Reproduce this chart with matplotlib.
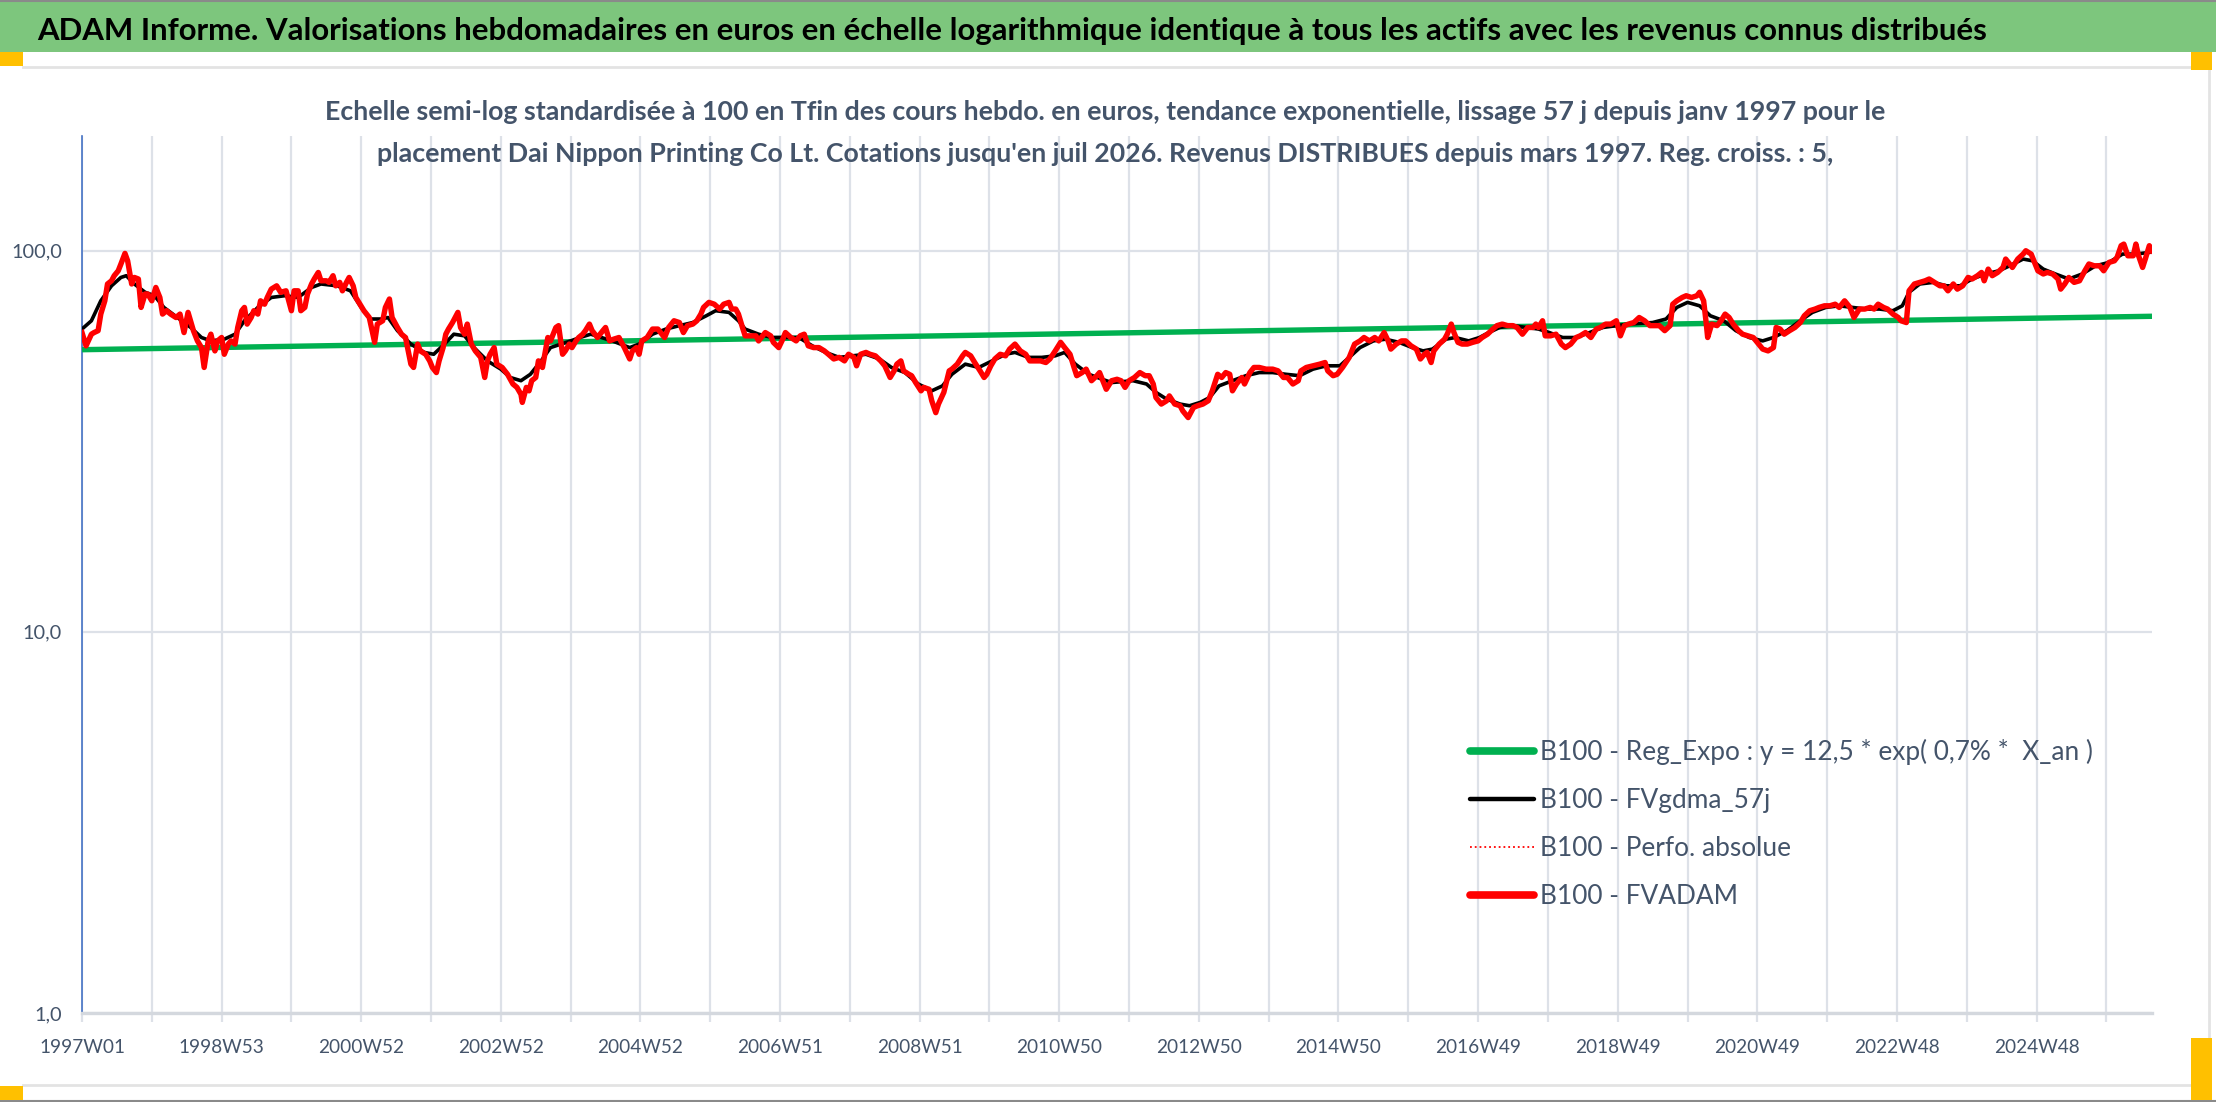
import matplotlib
matplotlib.use('Agg')
import matplotlib.pyplot as plt
from matplotlib.patches import Rectangle
from matplotlib.lines import Line2D
from matplotlib.ticker import NullLocator, FixedLocator, FixedFormatter
import numpy as np

# ---------------- DATA ----------------
title = ("ADAM Informe. Valorisations hebdomadaires en euros en échelle logarithmique "
         "identique à tous les actifs avec les revenus connus distribués")
subtitle1 = ("Echelle semi-log standardisée à 100 en Tfin des cours hebdo. en euros, tendance "
             "exponentielle, lissage 57 j depuis janv 1997 pour le")
subtitle2 = ("placement Dai Nippon Printing Co Lt. Cotations jusqu'en juil 2026. Revenus "
             "DISTRIBUES depuis mars 1997. Reg. croiss. : 5,")

tick_labels = ['1997W01', '1998W53', '2000W52', '2002W52', '2004W52', '2006W51', '2008W51',
               '2010W50', '2012W50', '2014W50', '2016W49', '2018W49', '2020W49', '2022W48',
               '2024W48']
n_weeks = 1543
y_tick_values = [1, 10, 100]
y_tick_labels = ['1,0', '10,0', '100,0']

series_names = ['B100 - Reg_Expo : y = 12,5 * exp( 0,7% *  X_an )',
                'B100 - FVgdma_57j',
                'B100 - Perfo. absolue',
                'B100 - FVADAM']

# regression (straight line on the log scale)
reg_weeks = [0, 1542]
reg_vals = [55.0, 67.3]

# FVADAM weekly valuation (sampled)
fv_weeks = [0, 3, 7, 9, 12, 14, 17, 19, 22, 24, 27, 29, 32, 34, 37, 39, 42, 44, 47, 49, 52, 55, 58, 60,
            63, 66, 70, 73, 76, 79, 83, 86, 89, 91, 94, 96, 99, 101, 104, 106, 109, 111, 114, 116, 119,
            121, 123, 126, 128, 131, 133, 136, 138, 141, 145, 148, 152, 156, 158, 161, 163, 166, 168,
            171, 173, 176, 178, 182, 184, 187, 189, 192, 194, 197, 199, 202, 204, 207, 210, 214, 218,
            220, 224, 226, 229, 231, 235, 238, 241, 245, 247, 250, 252, 256, 259, 261, 264, 266, 269,
            271, 273, 276, 280, 282, 285, 287, 290, 293, 297, 300, 302, 304, 307, 309, 313, 317, 321,
            324, 327, 328, 331, 333, 335, 338, 340, 343, 347, 349, 353, 355, 358, 360, 363, 365, 368,
            370, 373, 375, 378, 380, 384,
            388, 390, 393, 396, 400, 404, 408, 410, 413, 415, 417, 421, 425, 429, 431, 434, 437, 441,
            445, 448, 451, 455, 458, 461, 463, 467, 471, 475, 478, 482, 484, 487, 489, 492, 494, 498,
            502, 504, 507, 509, 513, 515, 519, 522, 524, 528, 532, 535, 538, 541, 545, 549, 553, 556,
            560, 564, 568, 571, 575, 577, 580, 584, 587, 591, 595, 598, 602, 605, 607, 610, 612, 616,
            618, 621, 625, 627, 631, 633, 636, 638, 642, 646, 648, 652, 656, 658, 662, 665, 669, 672,
            674, 677, 680, 684, 688, 691, 695, 699, 703, 706, 710, 714, 718, 721, 725, 729, 732, 736,
            739, 741, 745, 748, 752, 756, 758, 761, 763, 767, 771, 774,
            777, 780, 784, 788, 792, 795, 798, 800, 804, 808, 810, 814, 818, 820, 824, 828, 831, 835,
            839, 842, 846, 849, 852, 855, 857, 860, 864, 866, 870, 873, 877, 882, 887, 891, 895, 898,
            902, 906, 908, 912, 917, 922, 926, 928, 932, 935, 939, 944, 948, 952, 955, 959, 963, 966,
            970, 973, 975, 979, 983, 986, 990, 994, 997, 1000, 1002, 1005, 1007, 1011, 1015, 1017,
            1020, 1022, 1025, 1028, 1032, 1036, 1040, 1043, 1047, 1051, 1054, 1058, 1062, 1066, 1069,
            1073, 1077, 1081, 1083, 1085, 1088, 1090, 1094, 1098, 1102, 1105, 1109, 1113, 1116, 1120,
            1124, 1128, 1131, 1135, 1139, 1143, 1146, 1149, 1152, 1156, 1160,
            1164, 1168, 1172, 1175, 1179, 1183, 1185, 1188, 1192, 1195, 1199, 1203, 1205, 1208, 1210,
            1211, 1214, 1218, 1221, 1224, 1227, 1230, 1234, 1237, 1241, 1245, 1249, 1252, 1256, 1260,
            1262, 1265, 1268, 1272, 1276, 1280, 1283, 1287, 1291, 1294, 1298, 1302, 1306, 1309, 1313,
            1317, 1320, 1324, 1328, 1332, 1335, 1338, 1342, 1345, 1349, 1353, 1355, 1359, 1361, 1365,
            1369, 1373, 1376, 1380, 1384, 1387, 1390, 1394, 1397, 1401, 1405, 1408, 1412, 1415, 1417,
            1420, 1423, 1427, 1431, 1433, 1436, 1438, 1442, 1446, 1448, 1452, 1454, 1457, 1461, 1464,
            1468, 1472, 1474, 1477, 1480, 1484, 1488, 1492, 1495, 1499, 1503, 1506, 1510, 1514, 1516,
            1519, 1521, 1524, 1528, 1530, 1532, 1535, 1537, 1540, 1542]
fv_vals = [61.0, 56.3, 60.4, 61.0, 61.7, 68.2, 73.9, 81.8, 83.4, 86.0, 88.6, 92.3, 98.4, 94.1, 81.8, 85.1,
           84.3, 71.0, 77.0, 77.0, 73.9, 80.1, 75.4, 68.2, 69.6, 68.2, 66.8, 68.2, 61.0, 68.9, 61.7, 58.0,
           55.7, 49.4, 58.0, 60.4, 54.6, 58.0, 59.2, 53.5, 56.9, 58.0, 56.9, 62.9, 69.6, 71.0, 64.2, 66.8,
           69.6, 68.2, 73.9, 72.4, 75.4, 79.3, 80.9, 77.8, 78.5, 69.6, 78.5, 78.5, 69.6, 71.0, 77.0, 81.8,
           84.3, 87.7, 83.4, 83.4, 82.6, 86.0, 80.9, 82.6, 78.5, 82.6, 85.1, 80.9, 75.4, 72.4, 69.6, 66.8,
           57.5, 64.2, 65.5, 71.0, 74.7, 66.8, 62.9, 60.4, 59.2, 50.4, 49.4, 56.9, 54.6, 53.5, 51.4, 49.4,
           47.9, 51.4, 55.7, 60.4, 62.3, 64.8, 68.9, 62.9, 60.4, 64.2, 56.9, 54.6, 52.5, 46.5, 51.4, 53.5,
           55.7, 50.4, 49.4, 47.4, 44.7, 43.8, 42.0, 40.0, 43.8, 42.9, 45.6, 46.5, 51.4, 49.4, 59.2, 58.0,
           62.9, 63.6, 53.5, 54.6, 56.9, 55.7, 58.0, 59.2, 60.4, 61.7, 64.2, 61.7, 59.2,
           61.7, 62.9, 58.0, 58.6, 59.2, 55.7, 52.0, 54.6, 55.7, 53.5, 58.0, 59.2, 62.3, 62.3, 61.0, 59.2,
           62.9, 65.5, 64.8, 61.0, 63.6, 64.2, 65.5, 68.2, 71.0, 73.2, 72.4, 70.3, 72.4, 73.2, 70.3, 70.3,
           68.2, 62.9, 59.8, 59.8, 59.8, 58.0, 59.8, 61.0, 59.8, 57.5, 55.7, 58.6, 61.0, 59.2, 58.0, 59.8,
           60.4, 56.3, 55.7, 55.7, 54.6, 53.5, 52.0, 52.5, 51.4, 53.5, 52.5, 49.9, 53.5, 54.1, 53.5, 53.0,
           51.4, 49.9, 46.5, 48.4, 50.4, 51.4, 48.4, 47.4, 47.0, 45.1, 42.9, 43.8, 43.3, 40.4, 37.6, 39.6,
           42.5, 48.4, 48.9, 50.4, 53.0, 54.1, 53.0, 50.9, 48.4, 46.5, 47.4, 49.9, 52.0, 53.5, 53.0, 55.2,
           56.9, 54.6, 53.5, 51.4, 51.4, 51.4, 50.9, 52.0, 54.6, 57.5, 55.7, 53.5, 49.4, 47.0, 47.9, 48.9,
           45.6, 47.0, 47.9, 45.1, 43.3, 45.6, 46.0, 45.6,
           43.8, 45.6, 46.5, 47.9, 47.0, 47.0, 44.7, 41.2, 39.6, 40.4, 41.6, 39.6, 39.2, 38.0, 36.5, 38.8,
           39.2, 39.6, 40.4, 42.9, 47.4, 46.5, 47.9, 47.4, 42.9, 44.7, 46.5, 44.7, 47.9, 49.4, 49.4, 48.9,
           48.9, 48.4, 46.5, 46.5, 44.7, 45.6, 48.4, 49.4, 49.9, 50.4, 50.9, 48.4, 47.0, 47.4, 49.4, 52.5,
           56.9, 58.0, 59.2, 58.0, 59.2, 58.0, 61.0, 58.0, 55.2, 56.9, 58.0, 58.0, 56.3, 55.2, 52.0, 53.5,
           54.1, 50.9, 54.6, 56.9, 58.6, 60.4, 64.2, 61.0, 57.5, 56.9, 56.9, 57.5, 58.0, 59.2, 60.4, 62.3,
           63.6, 64.2, 63.6, 63.6, 62.9, 60.4, 62.9, 62.9, 64.2, 62.9, 65.5, 59.8, 59.8, 60.4, 56.9, 55.7,
           56.9, 59.2, 59.8, 61.0, 59.2, 62.3, 62.9, 64.2, 64.2, 65.5, 59.8, 63.6, 64.2, 64.8, 66.8,
           65.5, 63.6, 63.6, 63.6, 61.7, 63.6, 72.4, 73.9, 75.4, 76.2, 75.4, 76.2, 77.8, 73.9, 64.2, 59.2,
           64.2, 63.6, 65.5, 68.2, 66.8, 64.2, 61.7, 60.4, 59.8, 59.2, 56.9, 55.2, 54.6, 55.7, 62.9, 62.3,
           60.4, 61.7, 62.9, 64.8, 67.5, 69.6, 70.3, 71.0, 71.7, 71.7, 72.4, 71.0, 73.9, 71.0, 66.8, 70.3,
           70.3, 71.0, 70.3, 72.4, 71.0, 70.3, 68.2, 66.8, 65.5, 64.8, 78.5, 81.8, 82.6, 83.4, 84.3, 82.6,
           80.9, 80.9, 78.5, 81.8, 79.3, 80.9, 85.1, 84.3, 86.0, 87.7, 83.4, 89.5, 86.0, 87.7, 90.4, 95.1,
           92.3, 90.4, 95.1, 98.0, 100.0, 98.0, 94.1, 88.6, 86.9, 87.7, 86.9, 84.3, 79.3, 81.8, 85.1, 82.6,
           83.4, 88.6, 92.3, 91.3, 91.3, 88.6, 93.2, 94.1, 96.1, 103.1, 104.1, 97.0, 97.0, 104.1, 97.0,
           90.4, 95.1, 103.1, 100.0]

# FVgdma_57j smoothed valuation (sampled)
gdma_weeks = [0, 7, 14, 22, 29, 33, 39, 47, 54, 61, 71, 81, 89, 96, 106, 114, 121, 131, 141, 151, 161,
              171, 178, 190, 200, 208, 215, 223, 228, 235, 245, 255, 262, 270, 277, 285, 292, 302, 312,
              319, 327, 334, 342, 349, 357, 364, 371, 379,
              395, 408, 415, 425, 435, 445, 455, 465, 472, 482, 489, 494, 504, 514, 524, 534, 544, 554,
              564, 574, 584, 594, 603, 613, 623, 633, 641, 648, 658, 668, 678, 688, 695, 705, 715, 725,
              732, 740, 750, 760, 767,
              783, 793, 800, 808, 818, 825, 833, 840, 847, 857, 867, 877, 887, 897, 907, 917, 927, 937,
              944, 952, 962, 971, 981, 991, 999, 1006, 1016, 1023, 1033, 1041, 1048, 1056, 1066, 1076,
              1085, 1093, 1103, 1113, 1123, 1133, 1143, 1152,
              1170, 1180, 1188, 1196, 1205, 1213, 1223, 1232, 1242, 1252, 1260, 1270, 1280, 1289, 1299,
              1309, 1319, 1329, 1339, 1349, 1356, 1361, 1369, 1379, 1389, 1399, 1408, 1418, 1428, 1436,
              1446, 1453, 1461, 1470, 1480, 1490, 1500, 1510, 1520, 1530, 1540, 1542]
gdma_vals = [62.3, 65.5, 73.9, 80.9, 85.1, 86.0, 81.8, 77.8, 76.2, 71.0, 66.8, 62.9, 59.2, 58.0, 58.6,
             60.4, 65.5, 71.0, 75.4, 76.2, 75.4, 80.1, 81.8, 80.9, 78.5, 71.0, 66.2, 66.2, 66.8, 61.7,
             56.9, 54.1, 53.5, 56.9, 60.4, 59.8, 55.7, 51.4, 48.9, 46.5, 45.6, 47.4, 51.4, 55.7, 56.9,
             58.0, 59.2, 60.4,
             58.0, 55.7, 56.9, 60.4, 62.3, 63.6, 64.8, 67.5, 69.6, 68.9, 65.5, 62.3, 60.4, 59.2, 59.2,
             59.2, 56.3, 54.1, 52.5, 53.0, 53.5, 52.0, 49.4, 47.9, 44.7, 42.9, 44.2, 47.4, 50.4, 49.4,
             51.4, 53.5, 54.1, 52.5, 52.5, 53.0, 54.1, 50.4, 47.4, 46.0, 45.1,
             45.6, 44.7, 42.5, 40.8, 39.6, 39.2, 40.0, 41.2, 44.2, 45.6, 47.0, 47.9, 47.9, 47.4, 47.0,
             48.9, 49.9, 49.9, 52.5, 55.7, 58.0, 58.6, 57.5, 55.7, 54.6, 55.2, 58.6, 59.2, 58.0, 59.2,
             61.0, 62.9, 63.6, 62.9, 62.3, 61.0, 59.2, 59.2, 61.0, 62.9, 63.6, 64.2,
             64.8, 66.2, 71.0, 73.2, 71.7, 67.5, 65.5, 61.7, 59.2, 58.0, 59.2, 61.7, 65.5, 68.9, 71.0,
             71.7, 71.0, 70.3, 70.3, 69.6, 71.7, 77.8, 81.8, 82.6, 80.9, 80.9, 84.3, 86.9, 88.6, 91.3,
             95.1, 94.1, 89.5, 86.9, 84.3, 86.9, 91.3, 93.2, 98.0, 98.0, 99.0, 100.0]

# ---------------- FIGURE ----------------
W, H = 2216, 1102
plt.rcParams['font.family'] = ['Lato', 'DejaVu Sans']
fig = plt.figure(figsize=(W / 100, H / 100), dpi=100)
fig.patch.set_facecolor('white')
renderer = fig.canvas.get_renderer()


def fx(px):
    return px / W


def fy(py):
    return 1 - py / H


def fit_size(s, target, weight='normal'):
    t = fig.text(0, 0, s, fontsize=20, fontweight=weight)
    w = t.get_window_extent(renderer=renderer).width
    t.remove()
    return 20 * target / w


def rect(x0, y0, x1, y1, color, z=0):
    fig.add_artist(Rectangle((fx(x0), fy(y1)), fx(x1) - fx(x0), fy(y0) - fy(y1),
                             transform=fig.transFigure, facecolor=color, edgecolor='none', zorder=z))


def hline(y, x0, x1, color, lw):
    fig.add_artist(Line2D([fx(x0), fx(x1)], [fy(y), fy(y)], transform=fig.transFigure,
                          color=color, lw=lw, zorder=1))


def vline(x, y0, y1, color, lw):
    fig.add_artist(Line2D([fx(x), fx(x)], [fy(y0), fy(y1)], transform=fig.transFigure,
                          color=color, lw=lw, zorder=1))


# header bar and frame decorations
rect(0, 0, W, 52, '#7dc67d')
hline(1, 0, W, '#8a8a8a', 1.5)
hline(1100.5, 0, W, '#8a8a8a', 1.5)
hline(67, 23, 2191, '#e3e3e3', 2)
hline(1085, 23, 2191, '#e3e3e3', 2)
vline(2209, 70, 1038, '#e3e3e3', 2)
rect(0, 52, 23, 66, '#ffc000', 2)
rect(2191, 52, 2212, 70, '#ffc000', 2)
rect(0, 1086, 23, 1100, '#ffc000', 2)
rect(2191, 1038, 2212, 1100, '#ffc000', 2)

text_col = '#44546a'
ts = fit_size(title, 1952, 'bold')
fig.text(fx(1012), fy(40), title, ha='center', va='baseline', fontsize=ts,
         fontweight='bold', color='black')
ss = fit_size(subtitle1, 1567, 'bold')
fig.text(fx(1105), fy(120), subtitle1, ha='center', va='baseline', fontsize=ss,
         fontweight='bold', color=text_col)
fig.text(fx(1105), fy(162), subtitle2, ha='center', va='baseline', fontsize=ss,
         fontweight='bold', color=text_col)

# ---------------- AXES ----------------
ax = fig.add_axes([fx(82), fy(1013), fx(2152) - fx(82), fy(136) - fy(1013)])
ax.set_facecolor('white')
ax.plot(reg_weeks, reg_vals, color='#00b050', lw=3.9, solid_capstyle='butt',
        label=series_names[0], zorder=3)
ax.plot(gdma_weeks, gdma_vals, color='black', lw=2.6, label=series_names[1], zorder=4)
ax.plot(fv_weeks, fv_vals, color='red', lw=1.0, ls=':', label=series_names[2], zorder=5)
ax.plot(fv_weeks, fv_vals, color='#ff0000', lw=3.9, label=series_names[3], zorder=6,
        solid_joinstyle='round')

ax.set_yscale('log')
ax.set_ylim(1, 200)
ax.set_xlim(0, n_weeks - 1)
ax.yaxis.set_major_locator(FixedLocator(y_tick_values))
ax.yaxis.set_major_formatter(FixedFormatter(y_tick_labels))
ax.yaxis.set_minor_locator(NullLocator())

grid_pos = list(range(0, n_weeks, 52))
lab = []
for i, p in enumerate(grid_pos):
    lab.append(tick_labels[i // 2] if i % 2 == 0 and i // 2 < len(tick_labels) else '')
ax.xaxis.set_major_locator(FixedLocator(grid_pos))
ax.xaxis.set_major_formatter(FixedFormatter(lab))

grid_col = '#dde1e8'
ax.grid(True, which='major', color=grid_col, lw=1.6)
ax.set_axisbelow(True)
for s in ['top', 'right']:
    ax.spines[s].set_visible(False)
ax.spines['left'].set_color('#4472c4')
ax.spines['left'].set_linewidth(1.2)
ax.spines['bottom'].set_color('#d4d8de')
ax.spines['bottom'].set_linewidth(2.4)

tk = fit_size('1997W01', 86)
ax.tick_params(axis='x', length=6.5, width=1.6, color=grid_col, pad=12, labelsize=tk,
               labelcolor=text_col)
ax.tick_params(axis='y', length=0, pad=14.4, labelsize=tk * 1.05, labelcolor=text_col)

# legend: rows centred at y = 752, 800, 848, 897 px
ls_ = fit_size(series_names[0], 554)
fs_px = ls_ * 100 / 72
row_c = [752, 800, 848, 897]


def make_legend(spacing, top):
    return ax.legend(loc='upper left', bbox_to_anchor=(fx(1470), fy(top)),
                     bbox_transform=fig.transFigure, frameon=False, fontsize=ls_,
                     handlelength=64 / fs_px, handletextpad=6 / fs_px, borderpad=0,
                     borderaxespad=0, labelspacing=spacing, labelcolor=text_col)


spacing = 0.8
top = 752 - 0.6 * fs_px
leg = make_legend(spacing, top)
fig.canvas.draw()
cs = []
for t in leg.get_texts():
    bb = t.get_window_extent(renderer=renderer)
    cs.append(H - (bb.y0 + bb.y1) / 2)
pitch = (cs[-1] - cs[0]) / 3
spacing = spacing + (48.3 - pitch) / fs_px
top = top + (row_c[0] - cs[0])
leg.remove()
leg = make_legend(spacing, top)
for h, lw in zip(leg.get_lines(), [5.5, 3.2, 1.3, 5.5]):
    h.set_linewidth(lw)
    h.set_solid_capstyle('round')

fig.savefig('out.png', dpi=100, facecolor='white')
